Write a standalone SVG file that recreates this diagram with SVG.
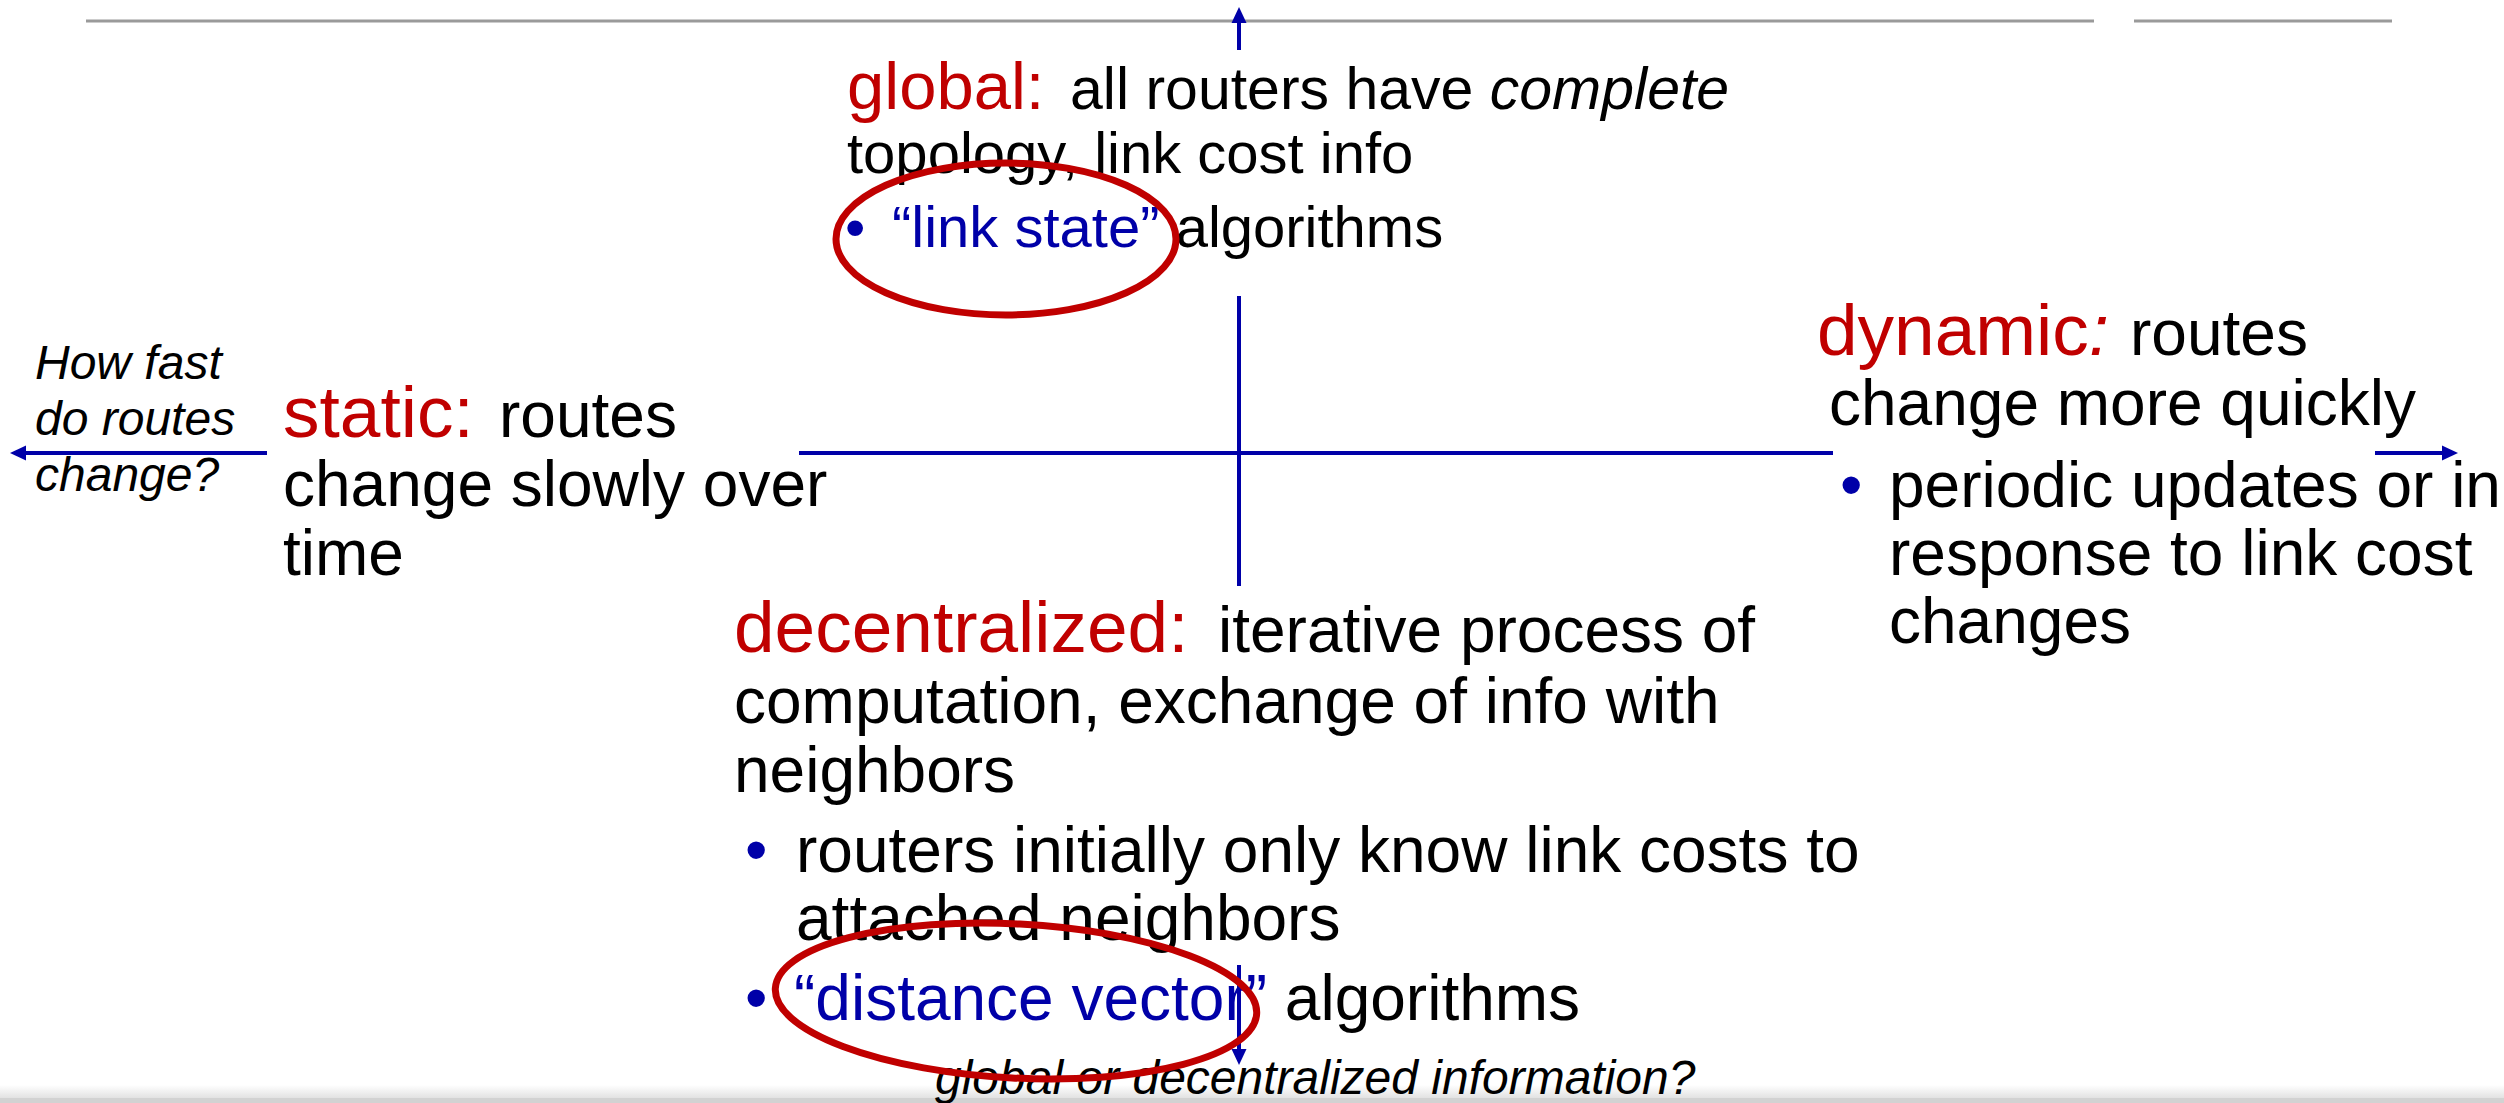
<svg xmlns="http://www.w3.org/2000/svg" width="2504" height="1103" viewBox="0 0 2504 1103">
<style>
text{font-family:"Liberation Sans",Arial,sans-serif;fill:#000}
.red{fill:#C00000}
.blue{fill:#0000A8}
.b64{font-size:64px}
.b58{font-size:58px}
.q{font-size:48px;font-style:italic}
.axis{stroke:#0000A8;stroke-width:4;fill:none}
.arr{stroke:#0000A8;stroke-width:4;fill:none;marker-end:url(#ah)}
.ring{fill:none;stroke:#C00000;stroke-width:7}
</style>
<defs>
<marker id="ah" markerUnits="userSpaceOnUse" markerWidth="16" markerHeight="16" refX="0" refY="7.5" orient="auto" viewBox="0 0 16 15">
<path d="M0,0 L16,7.5 L0,15 Z" fill="#0000A8"/>
</marker>
<linearGradient id="shade" x1="0" y1="0" x2="0" y2="1">
<stop offset="0" stop-color="#ffffff"/>
<stop offset="1" stop-color="#e2e2e2"/>
</linearGradient>
</defs>
<rect width="2504" height="1103" fill="#ffffff"/>
<rect x="0" y="1085" width="2504" height="13" fill="url(#shade)"/>
<rect x="0" y="1098" width="2504" height="5" fill="#d2d2d2"/>
<g id="rule">
<line x1="86" y1="21" x2="2094" y2="21" stroke="#9a9a9a" stroke-width="3"/>
<line x1="2134" y1="21" x2="2392" y2="21" stroke="#9a9a9a" stroke-width="3"/>
</g>
<g id="connectors">
<line class="axis" x1="799" y1="453" x2="1833" y2="453"/>
<line class="axis" x1="1239" y1="296" x2="1239" y2="586"/>
<line class="arr" x1="1239" y1="50" x2="1239" y2="23"/>
<line class="arr" x1="267" y1="453" x2="26" y2="453"/>
<line class="arr" x1="2375" y1="453" x2="2442" y2="453"/>
<line class="arr" x1="1239" y1="965" x2="1239" y2="1049"/>
</g>
<g id="node-question-speed">
<text class="q" x="35" y="379">How fast</text>
<text class="q" x="35" y="435">do routes</text>
<text class="q" x="35" y="491">change?</text>
</g>
<g id="node-static">
<text x="283" y="437"><tspan class="red" font-size="73">static:</tspan><tspan class="b64" x="499">routes</tspan></text>
<text class="b64" x="283" y="506">change slowly over</text>
<text class="b64" x="283" y="575">time</text>
</g>
<g id="node-global">
<text x="847" y="109"><tspan class="red" font-size="67">global:</tspan><tspan font-size="59" x="1070">all routers have <tspan font-style="italic">complete</tspan></tspan></text>
<text class="b58" x="847" y="173">topology, link cost info</text>
<text class="b58" x="845" y="247"><tspan class="blue">•</tspan><tspan class="blue" x="892">“link state”</tspan> algorithms</text>
</g>
<g id="node-dynamic">
<text x="1817" y="355"><tspan class="red" font-size="73">dynamic<tspan font-style="italic">:</tspan></tspan><tspan class="b64" x="2130">routes</tspan></text>
<text class="b64" x="1829" y="425">change more quickly</text>
<text class="b64" x="1840" y="507"><tspan class="blue">•</tspan><tspan x="1889">periodic updates or in</tspan></text>
<text class="b64" x="1889" y="575">response to link cost</text>
<text class="b64" x="1889" y="643">changes</text>
</g>
<g id="node-decentralized">
<text x="734" y="652"><tspan class="red" font-size="73">decentralized:</tspan><tspan class="b64" x="1218">iterative process of</tspan></text>
<text class="b64" x="734" y="723">computation, exchange of info with</text>
<text class="b64" x="734" y="792">neighbors</text>
<text class="b64" x="745" y="872"><tspan class="blue">•</tspan><tspan x="796">routers initially only know link costs to</tspan></text>
<text class="b64" x="796" y="940">attached neighbors</text>
<text class="b64" x="745" y="1020"><tspan class="blue">•</tspan><tspan class="blue" x="794">“distance vector”</tspan> algorithms</text>
</g>
<g id="node-question-info">
<text class="q" x="935" y="1094">global or decentralized information?</text>
</g>
<g id="highlights">
<ellipse class="ring" cx="1006" cy="239" rx="170" ry="76"/>
<ellipse class="ring" cx="1016" cy="1001" rx="241" ry="77" transform="rotate(3 1016 1001)"/>
</g>
</svg>
